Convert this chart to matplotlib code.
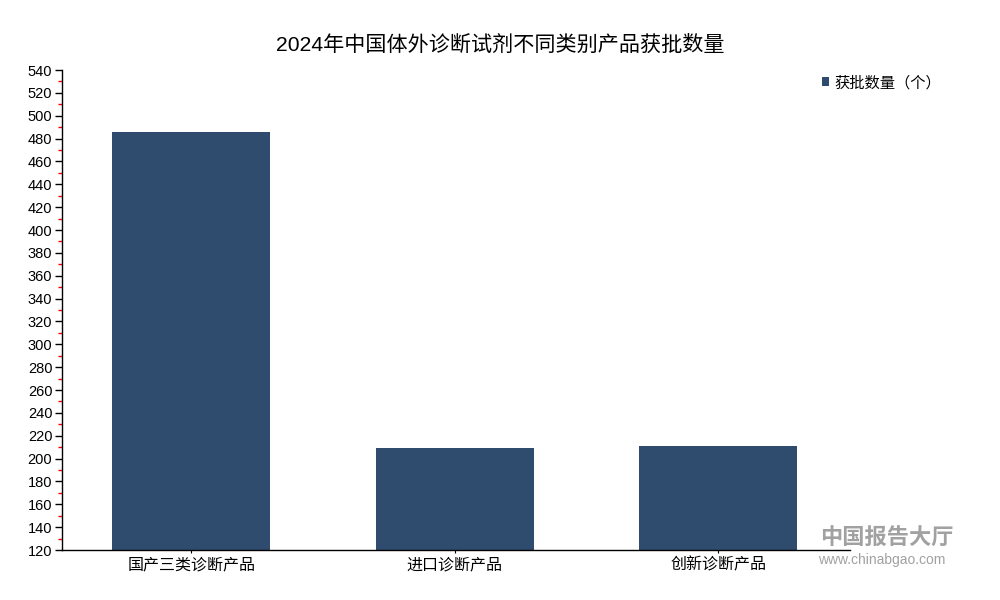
import matplotlib
matplotlib.use("Agg")
from matplotlib import pyplot as plt
from matplotlib.ticker import MultipleLocator
import numpy as np

plt.rcParams['font.family'] = ['Liberation Sans', 'Noto Sans CJK SC', 'DejaVu Sans']

title = "2024年中国体外诊断试剂不同类别产品获批数量"
categories = ["国产三类诊断产品", "进口诊断产品", "创新诊断产品"]
counts = [486, 209, 211]
series_name = "获批数量（个）"

bar_color = "#2F4B6E"

fig = plt.figure(figsize=(10, 6), dpi=100)
ax = fig.add_axes([0.062, 0.0833, 0.788, 0.8])

x = np.arange(len(categories))
ax.bar(x, counts, width=0.6, color=bar_color, label=series_name, zorder=2)

ax.set_xlim(-0.49, 2.5)
ax.set_ylim(120, 540)
ax.yaxis.set_major_locator(MultipleLocator(20))
ax.yaxis.set_minor_locator(MultipleLocator(10))
ax.set_xticks(x)
ax.set_xticklabels(categories, fontsize=11.5)
ax.tick_params(axis='y', which='major', length=5, width=1, color='black', labelsize=10.5, pad=2)
ax.tick_params(axis='y', which='minor', length=3, width=1, color='red')
ax.tick_params(axis='x', length=2, width=0.8, labelsize=11.5, pad=3)

for side in ('top', 'right'):
    ax.spines[side].set_visible(False)
ax.spines['left'].set_linewidth(1)
ax.spines['bottom'].set_linewidth(1)

fig.text(0.5, 0.925, title, ha='center', va='center', fontsize=15.2)

leg = fig.legend(loc='upper left', bbox_to_anchor=(0.808, 0.897), frameon=False,
                 handlelength=0.5, handleheight=0.5, handletextpad=0.3, fontsize=11)

# watermark
fig.text(0.82, 0.092, "中国报告大厅", fontsize=16, color='#8a8a8a', alpha=0.8, weight='bold')
fig.text(0.818, 0.06, "www.chinabgao.com", fontsize=10, color='#8a8a8a', alpha=0.8)

fig.savefig("out.png", dpi=100)
